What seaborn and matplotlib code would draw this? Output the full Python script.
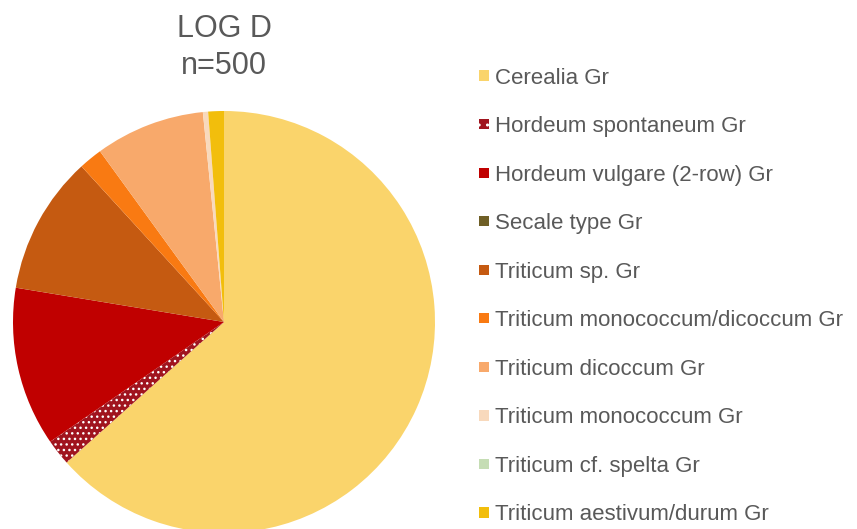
import matplotlib
matplotlib.use("Agg")
import matplotlib.pyplot as plt
from matplotlib.patches import Patch
import seaborn as sns

# Grain counts per taxon (n = 500)
taxa = [
    "Cerealia Gr",
    "Hordeum spontaneum Gr",
    "Hordeum vulgare (2-row) Gr",
    "Secale type Gr",
    "Triticum sp. Gr",
    "Triticum monococcum/dicoccum Gr",
    "Triticum dicoccum Gr",
    "Triticum monococcum Gr",
    "Triticum cf. spelta Gr",
    "Triticum aestivum/durum Gr",
]
counts = [317, 10, 61, 0, 53, 9, 42, 2, 0, 6]
colors = [
    "#FAD46B", "#A0141E", "#C00000", "#6F5F26", "#C55A11",
    "#F97A12", "#F8A96B", "#F8D9BC", "#C5DDB4", "#F2BE0C",
]
title_lines = ["LOG D", "n=500"]

sns.set_theme(style="white")
plt.rcParams["font.family"] = ["Liberation Sans", "DejaVu Sans"]
plt.rcParams["hatch.linewidth"] = 1.0

W, H = 857, 529
fig = plt.figure(figsize=(W / 100, H / 100), dpi=100)
fig.patch.set_facecolor("white")

# pie centred at (224, 322) px with radius 211 px
cx, cy, r = 224, 322, 211
ax = fig.add_axes([(cx - r) / W, (H - cy - r) / H, 2 * r / W, 2 * r / H])
palette = sns.color_palette(colors)
wedges, _ = ax.pie(counts, colors=palette, startangle=90, counterclock=False,
                   radius=1.0, wedgeprops=dict(linewidth=0))
ax.set_xlim(-1, 1)
ax.set_ylim(-1, 1)
ax.set_aspect("equal")
ax.axis("off")

# dotted fill for Hordeum spontaneum
wedges[1].set_hatch("...")
wedges[1].set_edgecolor("white")
wedges[1].set_linewidth(0)

fig.text(cx / W, 1 - 29 / H, title_lines[0], ha="center", va="center",
         fontsize=22, color="#595959")
fig.text(cx / W, 1 - 66 / H, title_lines[1], ha="center", va="center",
         fontsize=22, color="#595959")

handles = []
for i, (lab, col) in enumerate(zip(taxa, palette)):
    if i == 1:
        handles.append(Patch(facecolor=col, edgecolor="white", hatch="..",
                             linewidth=0, label=lab))
    else:
        handles.append(Patch(facecolor=col, edgecolor="none", label=lab))

fig.legend(handles=handles, loc="upper left",
           bbox_to_anchor=(479 / W, 1 - 67.5 / H),
           frameon=False, fontsize=16, labelcolor="#595959",
           handlelength=0.45, handleheight=0.33, handletextpad=0.25,
           labelspacing=1.24, borderpad=0, borderaxespad=0)

fig.savefig("out.png", dpi=100, facecolor="white")
